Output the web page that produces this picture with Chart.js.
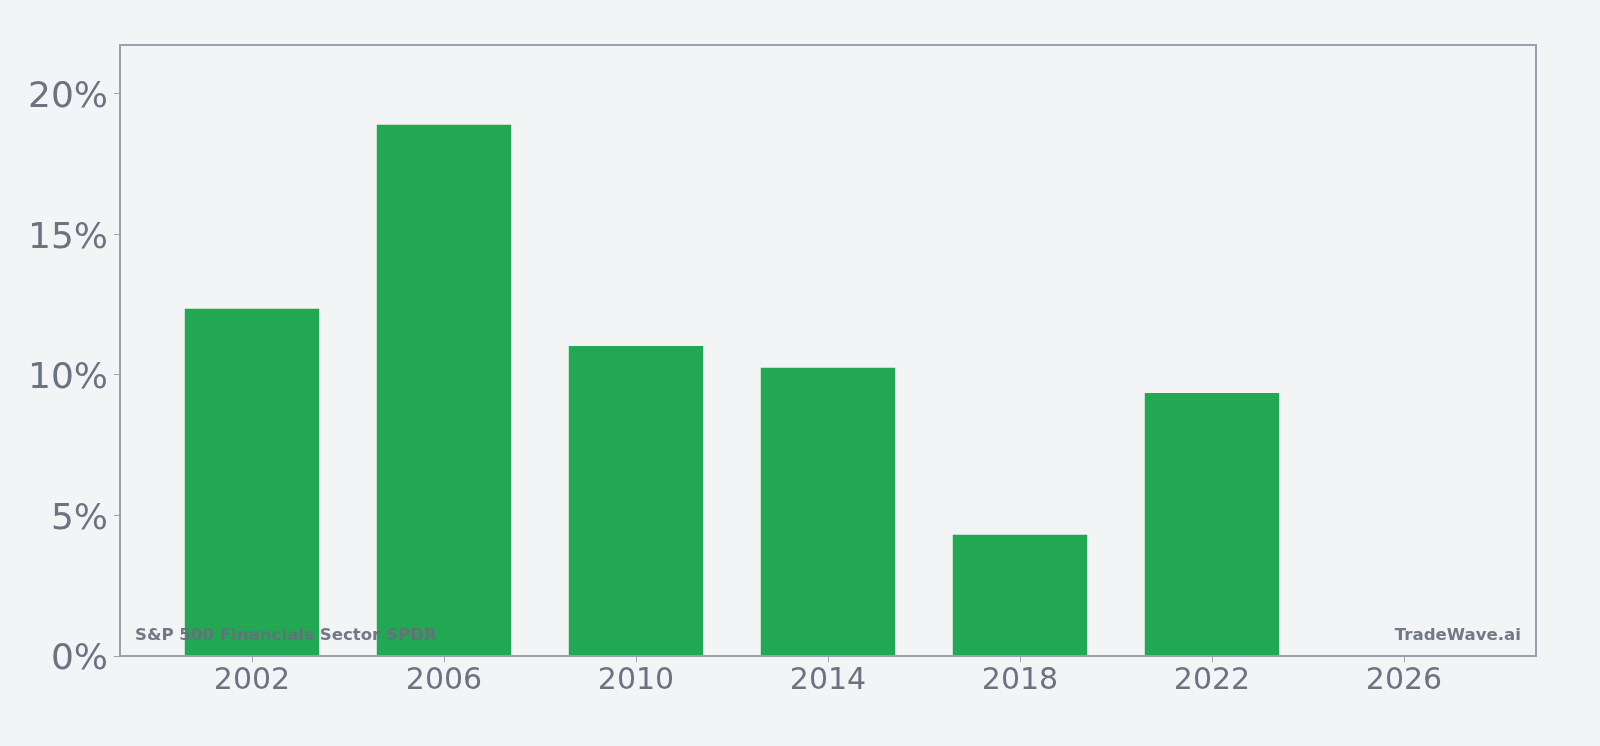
<!DOCTYPE html>
<html>
<head>
<meta charset="utf-8">
<script src="https://cdn.jsdelivr.net/npm/chart.js@4.4.1/dist/chart.umd.min.js"></script>
<style>
  html, body { margin: 0; padding: 0; background: #f3f4f6; }
  #wrap { width: 1600px; height: 746px; position: relative; }
</style>
</head>
<body>
<div id="wrap"><canvas id="c"></canvas></div>
<script>
const years = [2002, 2006, 2010, 2014, 2018, 2022];
const returnsPct = [12.35, 18.9, 11.03, 10.25, 4.31, 9.36];
const xTickYears = [2002, 2006, 2010, 2014, 2018, 2022, 2026];
const yTickValues = [0, 5, 10, 15, 20];
const titleText = 'S&P 500 Financials Sector SPDR';
const brandText = 'TradeWave.ai';

const yMax = Math.max(...returnsPct) * 1.15;

const frameAndLabels = {
  id: 'frameAndLabels',
  afterDatasetsDraw(chart) {
    const { ctx, chartArea: a } = chart;
    ctx.save();
    ctx.font = 'bold 16.6px "DejaVu Sans"';
    ctx.fillStyle = 'rgba(104,110,124,0.93)';
    ctx.textBaseline = 'alphabetic';
    ctx.textAlign = 'left';
    ctx.fillText(titleText, a.left + 15, a.bottom - 16);
    ctx.textAlign = 'right';
    ctx.fillText(brandText, a.right - 15, a.bottom - 16);
    ctx.restore();
  },
  afterDraw(chart) {
    const { ctx, chartArea: a } = chart;
    ctx.save();
    ctx.strokeStyle = '#9ca0ab';
    ctx.lineWidth = 2;
    ctx.strokeRect(a.left, a.top, a.right - a.left, a.bottom - a.top);
    ctx.restore();
  }
};

new Chart(document.getElementById('c'), {
  type: 'bar',
  data: {
    datasets: [{
      data: years.map((y, i) => ({ x: y, y: returnsPct[i] })),
      backgroundColor: '#22a853',
      borderWidth: 0,
      categoryPercentage: 0.7,
      barPercentage: 1.0
    }]
  },
  options: {
    responsive: true,
    maintainAspectRatio: false,
    animation: false,
    layout: { padding: { left: 0, top: 45, right: 64, bottom: 0 } },
    plugins: { legend: { display: false }, tooltip: { enabled: false } },
    scales: {
      x: {
        type: 'linear',
        offset: false,
        min: 1999.25,
        max: 2028.75,
        afterBuildTicks: s => { s.ticks = xTickYears.map(v => ({ value: v })); },
        afterFit: s => { s.height = 90; },
        grid: { display: true, offset: false, drawOnChartArea: false, drawTicks: true, tickLength: 6, color: '#9ca0ab' },
        border: { display: false },
        ticks: {
          font: { family: 'DejaVu Sans', size: 30 },
          color: '#6b7280',
          padding: 1,
          maxRotation: 0,
          callback: v => String(v)
        }
      },
      y: {
        min: 0,
        max: yMax,
        afterBuildTicks: s => { s.ticks = yTickValues.map(v => ({ value: v })); },
        afterFit: s => { s.width = 120; },
        grid: { display: true, drawOnChartArea: false, drawTicks: true, tickLength: 6, color: '#9ca0ab' },
        border: { display: false },
        ticks: {
          font: { family: 'DejaVu Sans', size: 36 },
          color: '#6b7280',
          padding: 6,
          labelOffset: 4,
          callback: v => v + '%'
        }
      }
    }
  },
  plugins: [frameAndLabels]
});
</script>
</body>
</html>
